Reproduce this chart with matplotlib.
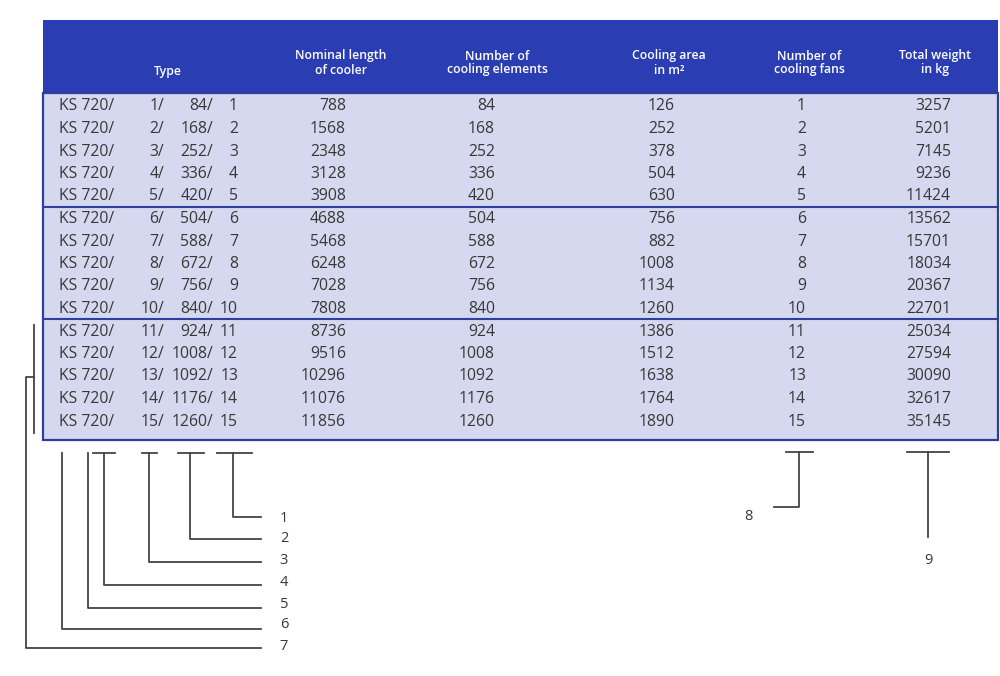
import matplotlib.pyplot as plt
from matplotlib.patches import Rectangle

plt.rcParams['font.family'] = ['Open Sans', 'DejaVu Sans']

# table data
prefix = "KS 720/"
type_no = [1, 2, 3, 4, 5, 6, 7, 8, 9, 10, 11, 12, 13, 14, 15]
type_elem = [84, 168, 252, 336, 420, 504, 588, 672, 756, 840, 924, 1008, 1092, 1176, 1260]
length = [788, 1568, 2348, 3128, 3908, 4688, 5468, 6248, 7028, 7808,
          8736, 9516, 10296, 11076, 11856]
elements = [84, 168, 252, 336, 420, 504, 588, 672, 756, 840, 924, 1008, 1092, 1176, 1260]
area = [126, 252, 378, 504, 630, 756, 882, 1008, 1134, 1260, 1386, 1512, 1638, 1764, 1890]
fans = [1, 2, 3, 4, 5, 6, 7, 8, 9, 10, 11, 12, 13, 14, 15]
weight = [3257, 5201, 7145, 9236, 11424, 13562, 15701, 18034, 20367, 22701,
          25034, 27594, 30090, 32617, 35145]
headers = ["Type", "Nominal length\nof cooler", "Number of\ncooling elements",
           "Cooling area\nin m²", "Number of\ncooling fans", "Total weight\nin kg"]
callouts = ["1", "2", "3", "4", "5", "6", "7", "8", "9"]

W, H = 1000, 676
fig = plt.figure(figsize=(W / 100, H / 100), dpi=100)
ax = fig.add_axes([0, 0, 1, 1])
ax.set_xlim(0, W)
ax.set_ylim(H, 0)
ax.axis("off")

hdr_col = "#2a3db3"
body_col = "#d5d8ef"
line_col = "#2e3f9e"
txt = "#383838"
ann = "#444444"

left, right, top, hdr_bot, bot = 43, 998, 20, 93, 440
ax.add_patch(Rectangle((left, top), right - left, hdr_bot - top, color=hdr_col, lw=0))
ax.add_patch(Rectangle((left, hdr_bot), right - left, bot - hdr_bot, facecolor=body_col,
                       edgecolor=line_col, lw=1.6))
for yy in (207, 319):
    ax.plot([left, right], [yy, yy], color=line_col, lw=1.5)

# headers
hdr_x = [168, 341, 497, 669, 809, 935]
hdr_y = [72, 63, 63, 63, 63, 63]
for s, x, y in zip(headers, hdr_x, hdr_y):
    ax.text(x, y, s, color="white", fontsize=8.8, ha="center", va="center",
            fontweight="semibold", linespacing=1.1)

# rows
fs = 11.3
row_y0, row_dy = 106.5, 22.5
for i in range(len(type_no)):
    y = row_y0 + i * row_dy
    ax.text(59, y, prefix, fontsize=fs, color=txt, ha="left", va="center")
    ax.text(164, y, f"{type_no[i]}/", fontsize=fs, color=txt, ha="right", va="center")
    ax.text(213, y, f"{type_elem[i]}/", fontsize=fs, color=txt, ha="right", va="center")
    ax.text(238, y, f"{type_no[i]}", fontsize=fs, color=txt, ha="right", va="center")
    ax.text(346, y, f"{length[i]}", fontsize=fs, color=txt, ha="right", va="center")
    ax.text(495, y, f"{elements[i]}", fontsize=fs, color=txt, ha="right", va="center")
    ax.text(675, y, f"{area[i]}", fontsize=fs, color=txt, ha="right", va="center")
    ax.text(806, y, f"{fans[i]}", fontsize=fs, color=txt, ha="right", va="center")
    ax.text(951, y, f"{weight[i]}", fontsize=fs, color=txt, ha="right", va="center")

# callout lines for the type code
tick_y = 453
end_x = 261
vx = [233, 190, 149, 104, 88, 62]
ticks = [(217, 252), (178, 204), (142, 157), (93, 115), None, None]
hy = [517, 539, 562, 585, 608, 629]
lab_y = [518, 539, 561, 582, 604, 625]
cfs = 10.5
for k in range(6):
    ax.plot([vx[k], vx[k], end_x], [tick_y, hy[k], hy[k]], color=ann, lw=1.3)
    if ticks[k] is not None:
        ax.plot(ticks[k], [tick_y, tick_y], color=ann, lw=1.3)
    ax.text(284, lab_y[k], callouts[k], fontsize=cfs, color=txt, ha="center", va="center")
# 7: bracket spanning group 3
ax.plot([34, 34], [325, 433], color=ann, lw=1.3)
ax.plot([34, 26, 26, end_x], [377, 377, 648, 648], color=ann, lw=1.3)
ax.text(284, 646, callouts[6], fontsize=cfs, color=txt, ha="center", va="center")

# 8 and 9
ax.plot([786, 813], [452, 452], color=ann, lw=1.3)
ax.plot([799, 799, 774], [452, 507, 507], color=ann, lw=1.3)
ax.text(748, 516, callouts[7], fontsize=cfs, color=txt, ha="center", va="center")
ax.plot([907, 949], [452, 452], color=ann, lw=1.3)
ax.plot([928, 928], [452, 537], color=ann, lw=1.3)
ax.text(928, 560, callouts[8], fontsize=cfs, color=txt, ha="center", va="center")

fig.savefig("out.png", dpi=100)
